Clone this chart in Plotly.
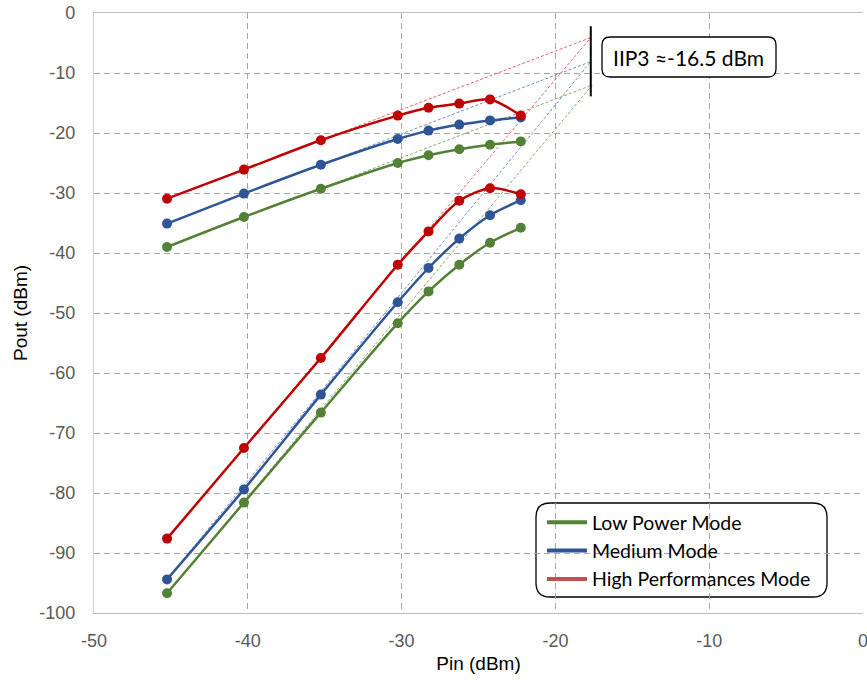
import plotly.graph_objects as go

# ---------------- data ----------------
pin = [-45.25, -40.25, -35.25, -30.25, -28.25, -26.25, -24.25, -22.25]

modes = ["Low Power Mode", "Medium Mode", "High Performances Mode"]

fund_low = [-39.0, -34.0, -29.3, -25.0, -23.7, -22.7, -21.95, -21.4]
fund_med = [-35.1, -30.1, -25.3, -21.0, -19.6, -18.6, -17.9, -17.4]
fund_high = [-30.95, -26.1, -21.2, -17.1, -15.8, -15.1, -14.4, -17.1]

im3_low = [-96.7, -81.6, -66.6, -51.7, -46.4, -41.95, -38.3, -35.8]
im3_med = [-94.4, -79.4, -63.6, -48.2, -42.5, -37.6, -33.7, -31.2]
im3_high = [-87.6, -72.5, -57.5, -41.95, -36.4, -31.3, -29.2, -30.2]

# extrapolated intercept points (Pin, Pout)
intercept_pin = [-17.6, -17.7, -17.7]
intercept_pout = [-12.0, -8.1, -4.1]

iip3_marker_pin = -17.7
iip3_marker_range = [-2.2, -13.9]
iip3_label = "IIP3 ≈-16.5 dBm"

x_ticks = [-50, -40, -30, -20, -10, 0]
y_ticks = [0, -10, -20, -30, -40, -50, -60, -70, -80, -90, -100]

colors = ["#538135", "#2F5597", "#C00000"]
legend_colors = ["#538135", "#2F5597", "#C0504D"]
dot_colors = ["#86AD6A", "#6F8FCB", "#E06666"]

fund = [fund_low, fund_med, fund_high]
im3 = [im3_low, im3_med, im3_high]

# ---------------- figure ----------------
fig = go.Figure()

# dotted extrapolation lines
for i in range(3):
    fig.add_trace(go.Scatter(
        x=[pin[0], intercept_pin[i]], y=[fund[i][0], intercept_pout[i]],
        mode="lines", line=dict(color=dot_colors[i], width=1, dash="3px,2px"),
        showlegend=False, hoverinfo="skip"))
    fig.add_trace(go.Scatter(
        x=[pin[0], intercept_pin[i]], y=[im3[i][0], intercept_pout[i]],
        mode="lines", line=dict(color=dot_colors[i], width=1, dash="3px,2px"),
        showlegend=False, hoverinfo="skip"))

# data curves
for i in range(3):
    for series in (fund[i], im3[i]):
        fig.add_trace(go.Scatter(
            x=pin, y=series, mode="lines+markers",
            line=dict(color=colors[i], width=2.5, shape="spline", smoothing=0.8),
            marker=dict(color=colors[i], size=10),
            showlegend=False))

# legend entries (line only)
for i in range(3):
    fig.add_trace(go.Scatter(
        x=[None], y=[None], mode="lines", name=modes[i],
        line=dict(color=legend_colors[i], width=4)))

# geometry (page pixels; body margin removed via post_script)
W, H = 867, 680
plot_left, plot_right, plot_top, plot_bottom = 94, 863, 13, 613
ml, mt = plot_left, plot_top
mr, mb = W - plot_right, H - plot_bottom
pw, ph = W - ml - mr, H - mt - mb


def px(x):
    return (x - plot_left) / pw


def py(y):
    return (plot_bottom - y) / ph


def rounded_box(x0, y0, x1, y1, r):
    p = (f"M {px(x0 + r)},{py(y0)} L {px(x1 - r)},{py(y0)} "
         f"Q {px(x1)},{py(y0)} {px(x1)},{py(y0 + r)} "
         f"L {px(x1)},{py(y1 - r)} Q {px(x1)},{py(y1)} {px(x1 - r)},{py(y1)} "
         f"L {px(x0 + r)},{py(y1)} Q {px(x0)},{py(y1)} {px(x0)},{py(y1 - r)} "
         f"L {px(x0)},{py(y0 + r)} Q {px(x0)},{py(y0)} {px(x0 + r)},{py(y0)} Z")
    return p


shapes = [
    dict(type="path", xref="paper", yref="paper",
         path=rounded_box(602, 37, 776, 77, 8),
         line=dict(color="black", width=1.3), fillcolor="white", layer="above"),
    dict(type="path", xref="paper", yref="paper",
         path=rounded_box(536, 503, 827, 597, 14),
         line=dict(color="black", width=1.3), fillcolor="white", layer="below"),
    dict(type="line", xref="x", yref="y",
         x0=iip3_marker_pin, x1=iip3_marker_pin,
         y0=iip3_marker_range[0], y1=iip3_marker_range[1],
         line=dict(color="black", width=2)),
]

tick_family = "Liberation Sans, Arial, sans-serif"

fig.update_layout(
    width=W, height=H,
    margin=dict(l=ml, r=mr, t=mt, b=mb, autoexpand=False),
    paper_bgcolor="white", plot_bgcolor="white",
    shapes=shapes,
    annotations=[dict(
        xref="paper", yref="paper",
        x=px(688), y=py(57),
        text=iip3_label, showarrow=False,
        font=dict(family="Lato, Open Sans, sans-serif", size=21, color="black"),
        xanchor="center", yanchor="middle")],
    legend=dict(
        x=px(542), y=py(503), xanchor="left", yanchor="top",
        bgcolor="rgba(0,0,0,0)", borderwidth=0,
        font=dict(family="Lato, Open Sans, sans-serif", size=19.5, color="black"),
        tracegroupgap=0, itemwidth=40),
    xaxis=dict(
        range=[-50, 0], tickvals=x_ticks, ticktext=[str(v) for v in x_ticks],
        showgrid=True, gridcolor="#A6A6A6", gridwidth=1.3, griddash="6px,4px",
        showline=True, linecolor="#BFBFBF", linewidth=1.3, mirror=True,
        zeroline=False, ticks="", ticklabelstandoff=11, automargin=False,
        ticklabeloverflow="allow",
        tickfont=dict(family=tick_family, size=18, color="#595959"),
        title=dict(text="Pin (dBm)", standoff=6,
                   font=dict(family=tick_family, size=19, color="black"))),
    yaxis=dict(
        range=[-100, 0], tickvals=y_ticks, ticktext=[str(v) for v in y_ticks],
        showgrid=True, gridcolor="#A6A6A6", gridwidth=1.3, griddash="6px,4px",
        showline=True, linecolor="#D0D0D0", linewidth=1.3,
        zeroline=False, ticks="", ticklabelstandoff=14, automargin=False,
        ticklabeloverflow="allow",
        tickfont=dict(family=tick_family, size=18, color="#595959"),
        title=dict(text="Pout (dBm)", standoff=6,
                   font=dict(family=tick_family, size=19, color="black"))),
)

fig.write_html("out.html",
               config={"displayModeBar": False},
               post_script="document.body.style.margin='0';"
                           "document.documentElement.style.overflow='hidden';")
